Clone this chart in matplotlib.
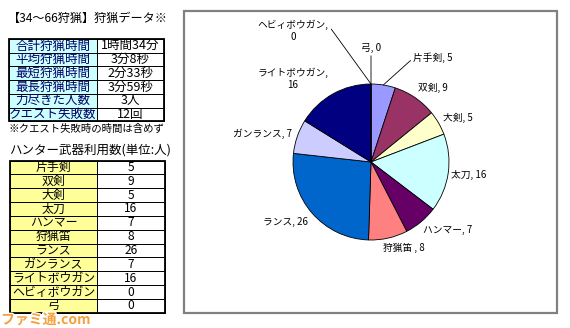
import numpy as np
import matplotlib.pyplot as plt
from matplotlib.patches import Rectangle
import matplotlib.patheffects as pe

plt.rcParams['font.family'] = ['Noto Sans CJK JP', 'DejaVu Sans']

# --- data ---
title = '【34～66狩猟】狩猟データ※'
summary_labels = ['合計狩猟時間', '平均狩猟時間', '最短狩猟時間', '最長狩猟時間', '力尽きた人数', 'クエスト失敗数']
summary_values = ['1時間34分', '3分8秒', '2分33秒', '3分59秒', '3人', '12回']
note = '※クエスト失敗時の時間は含めず'
weapon_title = 'ハンター武器利用数(単位:人)'
weapons = ['片手剣', '双剣', '大剣', '太刀', 'ハンマー', '狩猟笛', 'ランス', 'ガンランス',
           'ライトボウガン', 'ヘビィボウガン', '弓']
counts = [5, 9, 5, 16, 7, 8, 26, 7, 16, 0, 0]

# --- style ---
W, H = 570, 328
colors = ['#9999FF', '#993366', '#FFFFCC', '#CCFFFF', '#660066', '#FF8080',
          '#0066CC', '#CCCCFF', '#000080', '#FF00FF', '#FFFF00']
# label offset from the wedge edge (pixels), alignment, leader line
label_style = [
    ((30, 27), 'left', (0, 0.5)),
    ((3, 10), 'left', None),
    ((4, 5), 'left', None),
    ((3, -2), 'left', None),
    ((2, -8), 'left', None),
    ((-5, -10), 'left', None),
    ((-4, -9), 'right', None),
    ((-5, 3), 'right', None),
    ((-40, 15), 'center', None),
    ((-78, 53), 'center', (1, 0.75)),
    ((0, 36), 'center', (0.5, 0)),
]


def Y(v):
    # image rows (top = 0) -> axes coords (bottom = 0)
    return H - v


fig = plt.figure(figsize=(W / 100, H / 100), dpi=100)
ax = fig.add_axes([0, 0, 1, 1])

# pie chart
cx, cy, r = 371, 162, 78
wedges, _ = ax.pie(counts, colors=colors, startangle=90, counterclock=False,
                   center=(cx, Y(cy)), radius=r,
                   wedgeprops=dict(edgecolor='black', linewidth=0.6))

for w, name, n, (off, ha, rel) in zip(wedges, weapons, counts, label_style):
    mid = np.deg2rad((w.theta1 + w.theta2) / 2)
    ex, ey = cx + r * np.cos(mid), Y(cy) + r * np.sin(mid)
    sep = ',\n' if len(name) > 5 else ', '
    if name == '狩猟笛':
        name = name + ' '
    txt = f'{name}{sep}{n}'
    kw = dict(xy=(ex, ey), xytext=off, textcoords='offset pixels', ha=ha,
              va='center', fontsize=7, multialignment='center', linespacing=1.3)
    if rel is not None:
        kw['arrowprops'] = dict(arrowstyle='-', color='black', lw=0.6,
                                shrinkA=0, shrinkB=0, relpos=rel)
    ax.annotate(txt, **kw)

# chart frame
ax.add_patch(Rectangle((184, Y(313)), 373, 302, fill=False,
                       edgecolor='#808080', linewidth=1.6))

# titles
ax.text(8, Y(18), title, fontsize=8.7, va='center', ha='left')
ax.text(8, Y(129), note, fontsize=7.5, va='center', ha='left')
ax.text(9, Y(150), weapon_title, fontsize=9, va='center', ha='left')


def draw_table(x0, x1, x2, top, rowh, left, right, left_bg, left_fc, fs):
    n = len(left)
    for i in range(n):
        yb = Y(top + (i + 1) * rowh)
        ax.add_patch(Rectangle((x0, yb), x1 - x0, rowh, facecolor=left_bg,
                               edgecolor='black', linewidth=0.7))
        ax.add_patch(Rectangle((x1, yb), x2 - x1, rowh, facecolor='white',
                               edgecolor='black', linewidth=0.7))
        yc = yb + rowh / 2
        ax.text((x0 + x1) / 2, yc, left[i], fontsize=fs, ha='center',
                va='center', color=left_fc)
        ax.text((x1 + x2) / 2, yc, str(right[i]), fontsize=fs, ha='center',
                va='center', color='black')
    ax.add_patch(Rectangle((x0, Y(top + n * rowh)), x2 - x0, n * rowh,
                           fill=False, edgecolor='black', linewidth=1.3))


draw_table(9, 97, 164, 39, 13.7, summary_labels, summary_values, '#CCFFFF', '#000066', 9)
draw_table(10, 97, 165, 160.5, 13.85, weapons, counts, '#FFFF99', 'black', 8.6)

# site logo
ax.text(1, Y(320), 'ファミ通.com', fontsize=10, fontweight='bold', color='#F5A03A',
        ha='left', va='center',
        path_effects=[pe.withStroke(linewidth=2, foreground='white')])

ax.set_xlim(0, W)
ax.set_ylim(0, H)
ax.set_aspect('auto')
ax.axis('off')

fig.savefig('out.png', dpi=100, facecolor='white')
